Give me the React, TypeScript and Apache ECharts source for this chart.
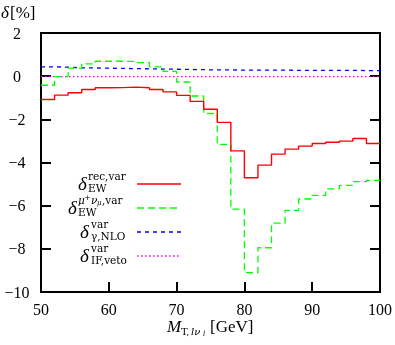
import React, { useEffect, useRef } from "react";
import * as echarts from "echarts";

const binStarts = [50, 52, 54, 56, 58, 60, 62, 64, 66, 68, 70, 72, 74, 76, 78, 80, 82, 84, 86, 88, 90, 92, 94, 96, 98];
const binEnd = 100;
const redVals = [-1.08, -0.88, -0.77, -0.62, -0.54, -0.53, -0.51, -0.54, -0.62, -0.73, -0.89, -1.17, -1.53, -2.14, -3.46, -4.71, -4.12, -3.61, -3.38, -3.24, -3.12, -3.06, -3.01, -2.89, -3.12];
const greenVals = [-0.42, -0.02, 0.37, 0.57, 0.69, 0.69, 0.68, 0.63, 0.43, 0.22, -0.27, -0.92, -1.73, -3.16, -6.16, -9.1, -7.95, -6.81, -6.22, -5.69, -5.52, -5.22, -5.06, -4.89, -4.83];
const blueVals = [0.43, 0.42, 0.39, 0.38, 0.37, 0.36, 0.35, 0.34, 0.33, 0.32, 0.31, 0.3, 0.29, 0.29, 0.28, 0.28, 0.28, 0.28, 0.27, 0.27, 0.27, 0.27, 0.27, 0.26, 0.26];
const magentaVals = [-0.02, -0.02, -0.02, -0.02, -0.02, -0.02, -0.02, -0.02, -0.02, -0.02, -0.02, -0.02, -0.02, -0.02, -0.02, -0.02, -0.02, -0.02, -0.02, -0.02, -0.02, -0.02, -0.02, -0.02, -0.02];
const xTicks = [50, 60, 70, 80, 90, 100];
const yTicks = [2, 0, -2, -4, -6, -8, -10];

const FONT = "'Liberation Serif', 'DejaVu Serif', serif";
const SFONT = "'DejaVu Serif', 'Liberation Serif', serif";

function steps(vals: number[]) {
  const d = binStarts.map((x, i) => [x, vals[i]]);
  d.push([binEnd, vals[vals.length - 1]]);
  return d;
}

function txt(text: string, x: number, y: number, size: number, italic = false, small = false) {
  return {
    type: "text",
    x,
    y,
    silent: true,
    style: {
      text,
      font: `${italic ? "italic " : ""}${size}px ${small ? SFONT : FONT}`,
      fill: "#000",
      textAlign: "left",
      textVerticalAlign: "middle",
    },
  };
}

function legLine(y: number, color: string, dash: any) {
  return {
    type: "line",
    silent: true,
    shape: { x1: 137, y1: y, x2: 181, y2: y },
    style: { stroke: color, lineWidth: 1.3, lineDash: dash },
  };
}

const L1 = 184, L2 = 208, L3 = 232, L4 = 256;

export default function App() {
  const ref = useRef<HTMLDivElement>(null);
  useEffect(() => {
    if (!ref.current) return;
    const chart = echarts.init(ref.current, undefined, { renderer: "svg" });
    const yMin = yTicks[yTicks.length - 1];
    const yMax = yTicks[0];
    const axisTickStyle = { show: true, inside: true, length: 10, lineStyle: { color: "#000", width: 2 } };
    const seriesBase = { type: "line", step: "end", showSymbol: false, symbol: "none", silent: true };
    chart.setOption({
      animation: false,
      grid: { left: 41, right: 12, top: 33, bottom: 53, show: true, borderColor: "#000", borderWidth: 2, backgroundColor: "transparent" },
      xAxis: {
        type: "value",
        min: xTicks[0],
        max: xTicks[xTicks.length - 1],
        interval: 10,
        axisLine: { show: false, onZero: false },
        axisTick: axisTickStyle,
        splitLine: { show: false },
        axisLabel: { margin: 9, color: "#000", fontSize: 16, fontFamily: FONT },
      },
      yAxis: [
        {
          type: "value",
          min: yMin,
          max: yMax,
          interval: 2,
          axisLine: { show: false, onZero: false },
          axisTick: axisTickStyle,
          splitLine: { show: false },
          axisLabel: {
            margin: 24,
            align: "center",
            color: "#000",
            fontSize: 16,
            fontFamily: FONT,
            formatter: (v: number) => String(v).replace("-", "\u2212"),
          },
        },
        {
          type: "value",
          position: "right",
          min: yMin,
          max: yMax,
          interval: 2,
          axisLine: { show: false, onZero: false },
          axisTick: axisTickStyle,
          splitLine: { show: false },
          axisLabel: { show: false },
        },
      ],
      series: [
        { ...seriesBase, name: "magenta", data: steps(magentaVals), lineStyle: { color: "#ff00ff", width: 1.3, type: [1.5, 2.5] } },
        { ...seriesBase, name: "blue", data: steps(blueVals), lineStyle: { color: "#0000ff", width: 1.3, type: [4, 4] } },
        { ...seriesBase, name: "green", data: steps(greenVals), lineStyle: { color: "#00ff00", width: 1.3, type: [7, 4] } },
        { ...seriesBase, name: "red", data: steps(redVals), lineStyle: { color: "#ff0000", width: 1.4 } },
      ],
      graphic: [
        // y axis title
        txt("\u03b4", 1, 12, 17, true),
        txt("[%]", 10, 12, 17),
        // x axis title
        txt("M", 167, 326, 17, true),
        txt("T,", 181, 331, 10, false, true),
        txt("l\u03bd", 191, 331, 10, true, true),
        txt("l", 203, 334, 7, true, true),
        txt("[GeV]", 210, 326, 17),
        // legend 1
        txt("\u03b4", 78, L1 - 1, 19, true),
        txt("rec,var", 88, L1 - 8, 10.5, false, true),
        txt("EW", 88, L1 + 4, 10.5, false, true),
        legLine(L1, "#ff0000", null),
        // legend 2
        txt("\u03b4", 68, L2 - 1, 19, true),
        txt("\u03bc", 78, L2 - 8, 10.5, true, true),
        txt("+", 84, L2 - 11, 8, false, true),
        txt("\u03bd", 91, L2 - 8, 10.5, true, true),
        txt("\u03bc", 97, L2 - 5, 7, true, true),
        txt(",var", 102, L2 - 8, 10.5, false, true),
        txt("EW", 78, L2 + 4, 10.5, false, true),
        legLine(L2, "#00ff00", [7, 4]),
        // legend 3
        txt("\u03b4", 80, L3 - 1, 19, true),
        txt("var", 91, L3 - 8, 10.5, false, true),
        txt("\u03b3,NLO", 91, L3 + 4, 10.5, false, true),
        legLine(L3, "#0000ff", [4, 4]),
        // legend 4
        txt("\u03b4", 80, L4 - 1, 19, true),
        txt("var", 91, L4 - 8, 10.5, false, true),
        txt("IF,veto", 91, L4 + 4, 10.5, false, true),
        legLine(L4, "#ff00ff", [1.5, 2.5]),
      ],
    });
    return () => chart.dispose();
  }, []);
  return <div ref={ref} style={{ position: "fixed", left: 0, top: 0, width: 395, height: 345 }} />;
}
